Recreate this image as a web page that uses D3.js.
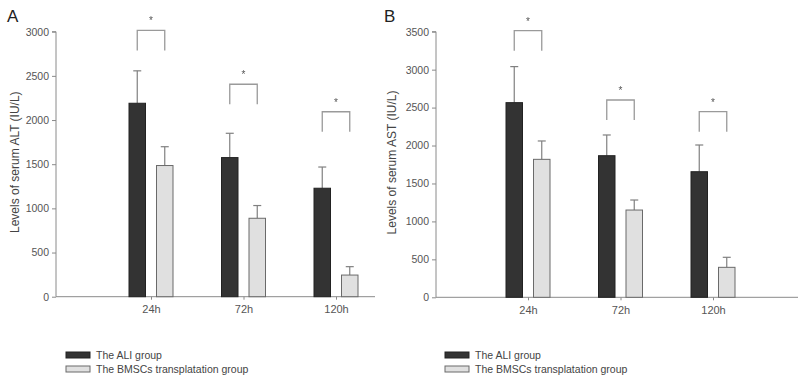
<!DOCTYPE html>
<html>
<head>
<meta charset="utf-8">
<script src="https://cdn.jsdelivr.net/npm/d3@7"></script>
<style>
  body { margin: 0; background: #fff; }
  svg { display: block; font-family: "Liberation Sans", Arial, sans-serif; }
  .tick text { fill: #555; }
</style>
</head>
<body>
<svg id="chart" width="800" height="382">
  <defs>
    <filter id="grey"><feColorMatrix type="saturate" values="0"/></filter>
  </defs>
</svg>
<script>
// Data
const times = ['24h', '72h', '120h'];
const groups = ['The ALI group', 'The BMSCs transplatation group'];

const altMean = [[2190, 1575, 1228], [1485, 888, 245]];
const altErr  = [[2557, 1850, 1468], [1698, 1032, 340]];
const altBrackets = [3015, 2405, 2094];

const astMean = [[2565, 1866, 1655], [1818, 1150, 395]];
const astErr  = [[3040, 2139, 2007], [2060, 1282, 527]];
const astBrackets = [3513, 2600, 2446];

const altTicks = [0, 500, 1000, 1500, 2000, 2500, 3000];
const astTicks = [0, 500, 1000, 1500, 2000, 2500, 3000, 3500];

const colours = ['#333333', '#e0e0e0'];
const strokes = ['#222222', '#6a6a6a'];

const svg = d3.select('#chart');

const drawPanel = (opts) => {
  const { letter, letterX, x0, x1, first, last, yTop, yBottom, yMax, ticks,
          mean, err, brackets, yLabel, labelX, legendX } = opts;

  const g = svg.append('g');

  const x = d3.scalePoint().domain(times).range([first, last]);
  const xInner = d3.scaleBand().domain(groups).range([-22, 22]).paddingInner(0.4);
  const y = d3.scaleLinear().domain([0, yMax]).range([yBottom, yTop]);

  // y axis
  const yAxis = g.append('g')
    .attr('transform', `translate(${x0},0)`)
    .call(d3.axisLeft(y).tickValues(ticks).tickSize(4).tickPadding(3).tickFormat(d3.format('d')));
  yAxis.selectAll('path, line').attr('stroke', '#8a8a8a');
  yAxis.selectAll('text').attr('font-size', 10.5);
  yAxis.select('.domain').attr('d', `M-4,${y(yMax)}H0V${y(0)}`);

  // x axis
  const xAxis = g.append('g')
    .attr('transform', `translate(0,${y(0)})`)
    .call(d3.axisBottom(x).tickSize(3).tickPadding(6));
  xAxis.select('.domain').remove();
  xAxis.selectAll('line').attr('stroke', '#8a8a8a');
  xAxis.selectAll('text').attr('font-size', 11);
  g.append('line')
    .attr('x1', x0).attr('x2', x1)
    .attr('y1', y(0)).attr('y2', y(0))
    .attr('stroke', '#8a8a8a');

  // bars, error bars
  groups.forEach((grp, gi) => {
    const rows = times.map((t, i) => ({ t, v: mean[gi][i], e: err[gi][i] }));
    const cx = d => x(d.t) + xInner(grp) + xInner.bandwidth() / 2;

    g.selectAll(null).data(rows).enter().append('line')
      .attr('x1', cx).attr('x2', cx)
      .attr('y1', d => y(d.v)).attr('y2', d => y(d.e))
      .attr('stroke', '#808080').attr('stroke-width', 1.2);
    g.selectAll(null).data(rows).enter().append('line')
      .attr('x1', d => cx(d) - 4).attr('x2', d => cx(d) + 4)
      .attr('y1', d => y(d.e)).attr('y2', d => y(d.e))
      .attr('stroke', '#808080').attr('stroke-width', 1.2);

    g.selectAll(null).data(rows).enter().append('rect')
      .attr('x', d => x(d.t) + xInner(grp))
      .attr('y', d => y(d.v))
      .attr('width', xInner.bandwidth())
      .attr('height', d => y(0) - y(d.v))
      .attr('fill', colours[gi])
      .attr('stroke', strokes[gi])
      .attr('stroke-width', 1);
  });

  // significance brackets
  const stars = g.append('g').attr('filter', 'url(#grey)');
  times.forEach((t, i) => {
    const xa = x(t) + xInner(groups[0]) + xInner.bandwidth() / 2;
    const xb = x(t) + xInner(groups[1]) + xInner.bandwidth() / 2;
    const top = y(brackets[i]);
    g.append('path')
      .attr('d', `M${xa},${top + 20}V${top}H${xb}V${top + 20}`)
      .attr('fill', 'none')
      .attr('stroke', '#9a9a9a')
      .attr('stroke-width', 1.3);
    stars.append('text')
      .attr('x', (xa + xb) / 2).attr('y', top - 6)
      .attr('text-anchor', 'middle')
      .attr('font-size', 10)
      .attr('fill', '#555')
      .text('*');
  });

  // y label
  g.append('text')
    .attr('transform', `translate(${labelX},${(y(0) + y(yMax)) / 2 - 2}) rotate(-90)`)
    .attr('text-anchor', 'middle')
    .attr('font-size', 12)
    .attr('fill', '#444')
    .text(yLabel);

  // panel letter
  g.append('text')
    .attr('x', letterX).attr('y', 22)
    .attr('font-size', 17)
    .attr('fill', '#222')
    .text(letter);

  // legend
  const legend = g.append('g').attr('transform', `translate(${legendX},352)`);
  groups.forEach((grp, gi) => {
    legend.append('rect')
      .attr('x', 0).attr('y', gi * 14)
      .attr('width', 24).attr('height', 6)
      .attr('fill', colours[gi])
      .attr('stroke', strokes[gi]);
    legend.append('text')
      .attr('x', 30).attr('y', gi * 14 + 7)
      .attr('font-size', 10.5)
      .attr('fill', '#444')
      .text(grp);
  });
};

drawPanel({
  letter: 'A', letterX: 7, x0: 56, x1: 375, first: 151, last: 336,
  yTop: 31.7, yBottom: 296.7, yMax: 3000, ticks: altTicks,
  mean: altMean, err: altErr, brackets: altBrackets,
  yLabel: 'Levels of serum ALT (IU/L)', labelX: 19, legendX: 66
});

drawPanel({
  letter: 'B', letterX: 384, x0: 436, x1: 798, first: 528, last: 713,
  yTop: 31.7, yBottom: 297.3, yMax: 3500, ticks: astTicks,
  mean: astMean, err: astErr, brackets: astBrackets,
  yLabel: 'Levels of serum AST (IU/L)', labelX: 396, legendX: 445
});
</script>
</body>
</html>
